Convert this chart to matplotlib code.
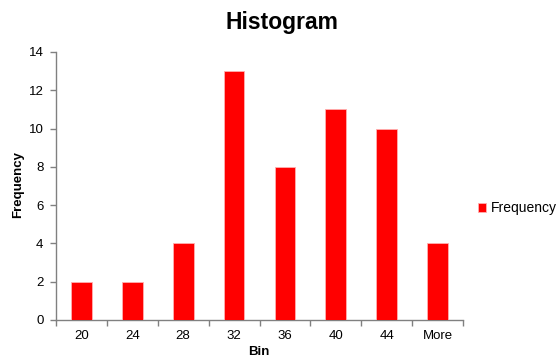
import matplotlib
matplotlib.use("Agg")
import matplotlib.pyplot as plt

plt.rcParams['font.family'] = ['Liberation Sans', 'DejaVu Sans']

bins = ["20", "24", "28", "32", "36", "40", "44", "More"]
frequency = [2, 2, 4, 13, 8, 11, 10, 4]
y_ticks = [0, 2, 4, 6, 8, 10, 12, 14]

fig = plt.figure(figsize=(5.58, 3.62), dpi=100)
W, H = 558, 362
x0, x1 = 56, 463
y0, y1 = 320, 52
ax = fig.add_axes([x0 / W, 1 - y0 / H, (x1 - x0) / W, (y0 - y1) / H])

xs = list(range(len(bins)))
ax.bar(xs, frequency, width=0.41, color="#ff0000", edgecolor="#ffb0b0",
       linewidth=0.6, label="Frequency", zorder=3)

ax.set_xlim(-0.5, len(bins) - 0.5)
ax.set_ylim(0, 14)
ax.set_yticks(y_ticks)
ax.set_yticklabels([str(v) for v in y_ticks])

# category labels centred, tick marks on the category boundaries
ax.set_xticks(xs)
ax.set_xticklabels(bins)
ax.tick_params(axis='x', which='major', length=0, pad=7, labelsize=9.5)
ax.set_xticks([i - 0.5 for i in range(len(bins) + 1)], minor=True)
ax.tick_params(axis='x', which='minor', length=4, color="#808080", width=1)
ax.tick_params(axis='y', length=4, color="#808080", width=1, pad=5, labelsize=9.5)

for s in ("top", "right"):
    ax.spines[s].set_visible(False)
for s in ("left", "bottom"):
    ax.spines[s].set_color("#808080")
    ax.spines[s].set_linewidth(1)

fig.text(282 / W, 1 - 22 / H, "Histogram", ha="center", va="center",
         fontsize=16.5, fontweight="bold")
fig.text(18 / W, 1 - 184 / H, "Frequency", ha="center", va="center",
         rotation=90, fontsize=9.5, fontweight="bold")
fig.text(259 / W, 1 - 352 / H, "Bin", ha="center", va="center",
         fontsize=9.5, fontweight="bold")

leg = ax.legend(loc="center left", bbox_to_anchor=(478 / W, 1 - 208 / H),
                bbox_transform=fig.transFigure, frameon=False, fontsize=10,
                handlelength=0.6, handleheight=0.6, handletextpad=0.3,
                borderpad=0, borderaxespad=0)

fig.savefig("out.png", dpi=100)
